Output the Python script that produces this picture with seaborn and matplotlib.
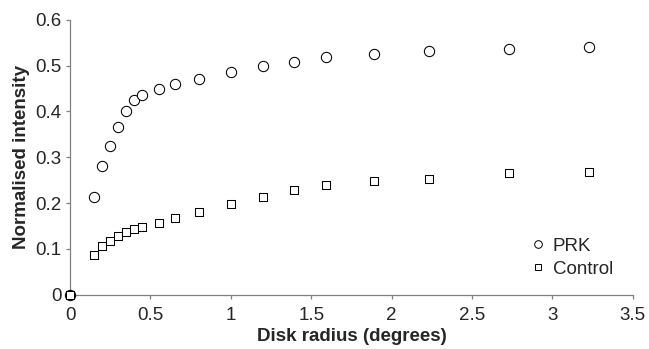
import pandas as pd
import matplotlib
matplotlib.use("Agg")
import matplotlib.pyplot as plt
import seaborn as sns
from matplotlib.lines import Line2D

# Data
radius = [0, 0.15, 0.2, 0.25, 0.3, 0.35, 0.4, 0.45, 0.55, 0.65, 0.8,
          1.0, 1.2, 1.39, 1.59, 1.89, 2.23, 2.73, 3.23]
prk = [0, 0.214, 0.280, 0.325, 0.365, 0.400, 0.426, 0.436, 0.449, 0.461, 0.471,
       0.486, 0.499, 0.508, 0.518, 0.526, 0.532, 0.537, 0.540]
control = [0, 0.087, 0.106, 0.118, 0.127, 0.136, 0.143, 0.148, 0.157, 0.167, 0.180,
           0.197, 0.214, 0.229, 0.240, 0.247, 0.253, 0.266, 0.268]

sns.set_style("ticks")
plt.rcParams['font.family'] = ['Liberation Sans', 'DejaVu Sans']

df = pd.DataFrame({'radius': radius + radius,
                   'intensity': prk + control,
                   'group': ['PRK'] * len(prk) + ['Control'] * len(control)})

fig = plt.figure(figsize=(6.49, 3.49), dpi=100)
ax = fig.add_axes([0.108, 0.156, 0.867, 0.787])

sns.scatterplot(data=df[df.group == 'PRK'], x='radius', y='intensity', ax=ax,
                marker='o', s=55, facecolor='white', edgecolor='black', linewidth=0.75,
                legend=False, zorder=3, clip_on=False)
sns.scatterplot(data=df[df.group == 'Control'], x='radius', y='intensity', ax=ax,
                marker='s', s=30, facecolor='white', edgecolor='black', linewidth=0.75,
                legend=False, zorder=3, clip_on=False)

ax.set_xlim(0, 3.5)
ax.set_ylim(0, 0.6)
ax.set_xticks([0, 0.5, 1, 1.5, 2, 2.5, 3, 3.5])
ax.set_xticklabels(['0', '0.5', '1', '1.5', '2', '2.5', '3', '3.5'])
ax.set_yticks([0, 0.1, 0.2, 0.3, 0.4, 0.5, 0.6])
ax.set_yticklabels(['0', '0.1', '0.2', '0.3', '0.4', '0.5', '0.6'])
ax.tick_params(labelsize=13.5, length=3, color='#808080', width=0.9)
ax.tick_params(axis='x', pad=6)
ax.tick_params(axis='y', pad=3)
for side in ['top', 'right']:
    ax.spines[side].set_visible(False)
for side in ['left', 'bottom']:
    ax.spines[side].set_color('#808080')
    ax.spines[side].set_linewidth(0.9)

ax.set_xlabel('Disk radius (degrees)', fontsize=13.5, fontweight='bold', labelpad=3)
ax.set_ylabel('Normalised intensity', fontsize=13.5, fontweight='bold', labelpad=4)

handles = [Line2D([], [], ls='none', marker='o', ms=5.5, mfc='white', mec='black', mew=0.7),
           Line2D([], [], ls='none', marker='s', ms=5, mfc='white', mec='black', mew=0.7)]
ax.legend(handles, ['PRK', 'Control'], frameon=False, fontsize=13.5,
          loc='lower right', bbox_to_anchor=(0.995, 0.0),
          handlelength=0.6, handletextpad=0.5, labelspacing=0.3)

fig.savefig('out.png', dpi=100)
